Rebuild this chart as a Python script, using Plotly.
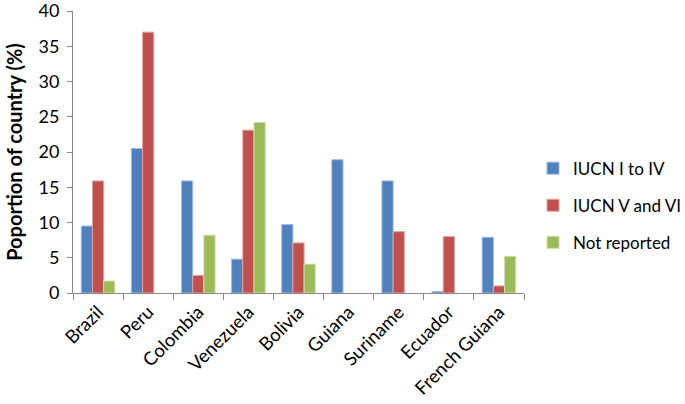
import plotly.graph_objects as go

countries = ["Brazil", "Peru", "Colombia", "Venezuela", "Bolivia", "Guiana",
             "Suriname", "Ecuador", "French Guiana"]
iucn_1_4 = [9.5, 20.5, 15.9, 4.8, 9.7, 18.9, 15.9, 0.2, 7.9]
iucn_5_6 = [15.9, 37.0, 2.5, 23.1, 7.1, None, 8.7, 8.0, 1.0]
not_reported = [1.7, None, 8.2, 24.2, 4.1, None, None, None, 5.2]

series = [
    ("IUCN I to IV", iucn_1_4, "#4F81BD", "#9DB9DE"),
    ("IUCN V and VI", iucn_5_6, "#C0504D", "#E0A19F"),
    ("Not reported", not_reported, "#9BBB59", "#CDE0A8"),
]

fig = go.Figure()
for name, vals, col, edge in series:
    fig.add_trace(go.Bar(x=countries, y=vals, name=name, legendgroup=name,
                         marker_color=col, marker_line=dict(color=edge, width=1)))

font = "Lato, 'Open Sans', sans-serif"
fig.update_layout(
    width=685, height=404,
    margin=dict(l=73, r=161, t=11, b=111, autoexpand=False),
    plot_bgcolor="white", paper_bgcolor="white",
    barmode="group", bargap=0.33, bargroupgap=0,
    font=dict(family=font, size=17, color="#000000"),
    legend=dict(x=1.02, y=0.31, yanchor="middle", xanchor="left",
                font=dict(size=17), itemwidth=30, tracegroupgap=12,
                traceorder="grouped"),
    showlegend=True,
)
fig.update_xaxes(
    showline=True, linecolor="#888888", linewidth=1, automargin=False,
    ticks="outside", ticklen=6, tickcolor="#888888", tickson="boundaries",
    tickangle=-45, tickfont=dict(size=18.5), ticklabeloverflow="allow",
)
fig.update_yaxes(
    range=[0, 40], dtick=5, showgrid=False, zeroline=False, automargin=False,
    showline=True, linecolor="#888888", linewidth=1,
    ticks="outside", ticklen=5, tickcolor="#888888", ticklabeloverflow="allow",
    ticklabelstandoff=4, tickfont=dict(size=18),
    title=dict(text="<b>Poportion of country (%)</b>", font=dict(size=20), standoff=10),
)

fig.write_html("out.html", config={"displayModeBar": False},
               post_script="document.body.style.margin='0';")
